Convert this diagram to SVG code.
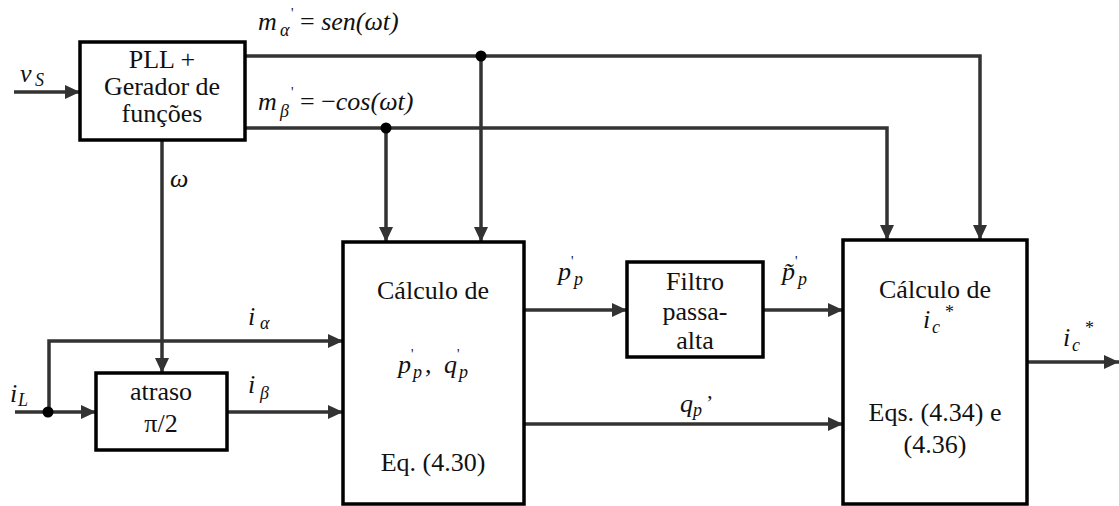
<svg xmlns="http://www.w3.org/2000/svg" width="1119" height="506" viewBox="0 0 1119 506">
<style>
text, tspan {font-family:'Liberation Serif',serif}
.box{fill:#fff;stroke:#000;stroke-width:3.5}
.t{font-size:26px;fill:#111;text-anchor:middle}
.m{font-style:italic;font-size:26px;fill:#111}
.s{font-size:18px}
.p{font-size:14px;font-style:normal}
.c{fill:none;stroke:#333;stroke-width:3.5}
.dot{fill:#000}
</style>
<defs>
<marker id="ah" markerUnits="userSpaceOnUse" markerWidth="15" markerHeight="14" refX="15" refY="7" orient="auto">
<path d="M0,0 L15,7 L0,14 z" fill="#333"/>
</marker>
</defs>
<rect width="1119" height="506" fill="#fff"/>
<g id="connectors">
<path class="c" d="M14,92 H80" marker-end="url(#ah)"/>
<path class="c" d="M245,56 H980 V240" marker-end="url(#ah)"/>
<path class="c" d="M481,56 V242" marker-end="url(#ah)"/>
<path class="c" d="M245,128 H887 V240" marker-end="url(#ah)"/>
<path class="c" d="M386,128 V242" marker-end="url(#ah)"/>
<path class="c" d="M162,140 V373" marker-end="url(#ah)"/>
<path class="c" d="M49,412 V341 H343" marker-end="url(#ah)"/>
<path class="c" d="M15,412 H96" marker-end="url(#ah)"/>
<path class="c" d="M227,412 H343" marker-end="url(#ah)"/>
<path class="c" d="M524,310 H627" marker-end="url(#ah)"/>
<path class="c" d="M763,310 H843" marker-end="url(#ah)"/>
<path class="c" d="M524,424 H843" marker-end="url(#ah)"/>
<path class="c" d="M1027,362 H1119" marker-end="url(#ah)"/>
<circle class="dot" cx="481" cy="56" r="5.5"/>
<circle class="dot" cx="386" cy="128" r="5.5"/>
<circle class="dot" cx="48" cy="412" r="5.5"/>
</g>
<g id="labels">
<text font-family="'Liberation Serif', serif" class="m" x="20" y="82">v<tspan class="s" x="35" y="86">S</tspan></text>
<text font-family="'Liberation Serif', serif" class="m" x="258" y="30">m<tspan class="s" x="280" y="36">α</tspan><tspan class="p" x="291" y="18">'</tspan><tspan x="300" y="30" font-style="normal">= </tspan><tspan>sen(ωt)</tspan></text>
<text font-family="'Liberation Serif', serif" class="m" x="258" y="110">m<tspan class="s" x="280" y="117">β</tspan><tspan class="p" x="291" y="97">'</tspan><tspan x="300" y="110" font-style="normal">= −</tspan><tspan>cos(ωt)</tspan></text>
<text font-family="'Liberation Serif', serif" class="m" x="170" y="187">ω</text>
<text font-family="'Liberation Serif', serif" class="m" x="248" y="325">i<tspan class="s" x="260" y="329">α</tspan></text>
<text font-family="'Liberation Serif', serif" class="m" x="248" y="393">i<tspan class="s" x="260" y="399">β</tspan></text>
<text font-family="'Liberation Serif', serif" class="m" x="10" y="402">i<tspan class="s" x="18" y="406">L</tspan></text>
<text font-family="'Liberation Serif', serif" class="m" x="558" y="280">p<tspan class="p" x="571" y="266">'</tspan><tspan class="s" x="574" y="285">p</tspan></text>
<text font-family="'Liberation Serif', serif" class="m" x="782" y="280">p̃<tspan class="p" x="795" y="266">'</tspan><tspan class="s" x="798" y="285">p</tspan></text>
<text font-family="'Liberation Serif', serif" class="m" x="680" y="412">q<tspan class="s" x="693" y="416">p</tspan><tspan x="706" y="410" font-size="22px" font-style="normal">’</tspan></text>
<text font-family="'Liberation Serif', serif" class="m" x="1063" y="346">i<tspan class="s" x="1072" y="351">c</tspan><tspan class="s" x="1085" y="334" font-style="normal">*</tspan></text>
</g>
<g id="pll">
<rect class="box" x="80" y="42" width="165" height="98"/>
<text font-family="'Liberation Serif', serif" class="t" x="162" y="68" font-size="24px">PLL +</text>
<text font-family="'Liberation Serif', serif" class="t" x="162" y="95" font-size="24px">Gerador de</text>
<text font-family="'Liberation Serif', serif" class="t" x="162" y="122" font-size="24px">funções</text>
</g>
<g id="atraso">
<rect class="box" x="96" y="373" width="131" height="77"/>
<text font-family="'Liberation Serif', serif" class="t" x="161" y="400">atraso</text>
<text font-family="'Liberation Serif', serif" class="t" x="161" y="432">π/2</text>
</g>
<g id="calc-pq">
<rect class="box" x="343" y="242" width="181" height="262"/>
<text font-family="'Liberation Serif', serif" class="t" x="433" y="299">Cálculo de</text>
<text font-family="'Liberation Serif', serif" class="m" x="398" y="373">p<tspan class="p" x="411" y="359">'</tspan><tspan class="s" x="413" y="378">p</tspan><tspan x="425" y="373" font-style="normal">, </tspan><tspan x="444">q</tspan><tspan class="p" x="457" y="359">'</tspan><tspan class="s" x="459" y="378">p</tspan></text>
<text font-family="'Liberation Serif', serif" class="t" x="433" y="471">Eq. (4.30)</text>
</g>
<g id="filtro">
<rect class="box" x="627" y="262" width="136" height="95"/>
<text font-family="'Liberation Serif', serif" class="t" x="695" y="290">Filtro</text>
<text font-family="'Liberation Serif', serif" class="t" x="695" y="320">passa-</text>
<text font-family="'Liberation Serif', serif" class="t" x="695" y="349">alta</text>
</g>
<g id="calc-ic">
<rect class="box" x="843" y="240" width="184" height="264"/>
<text font-family="'Liberation Serif', serif" class="t" x="935" y="298">Cálculo de</text>
<text font-family="'Liberation Serif', serif" class="m" x="923" y="328">i<tspan class="s" x="932" y="333">c</tspan><tspan class="s" x="945" y="318" font-style="normal">*</tspan></text>
<text font-family="'Liberation Serif', serif" class="t" x="935" y="421">Eqs. (4.34) e</text>
<text font-family="'Liberation Serif', serif" class="t" x="935" y="453">(4.36)</text>
</g>
</svg>
